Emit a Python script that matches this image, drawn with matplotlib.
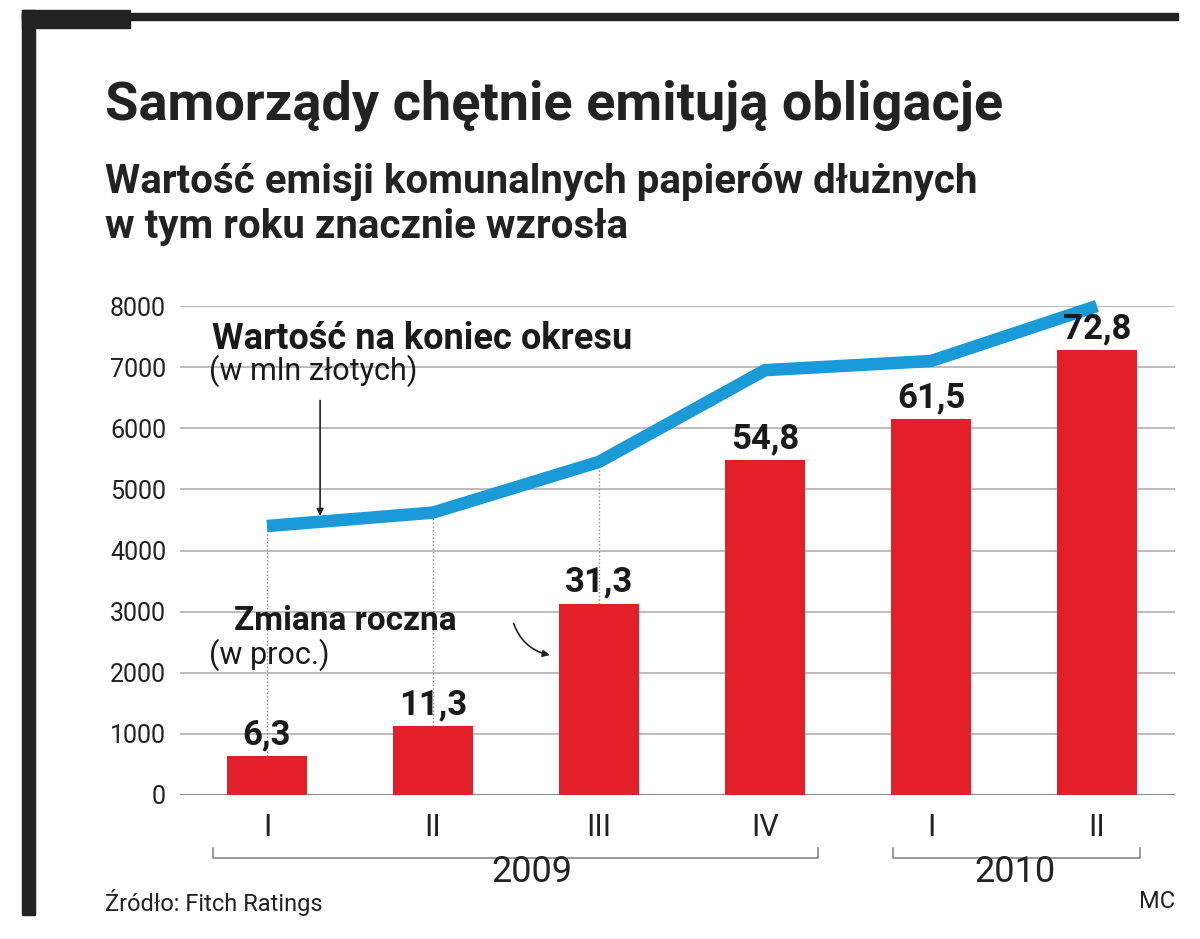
import matplotlib
matplotlib.use("Agg")
import matplotlib.pyplot as plt
from matplotlib.patches import Rectangle
from matplotlib.lines import Line2D

quarters = ["I", "II", "III", "IV", "I", "II"]
bar_values = [630, 1130, 3130, 5480, 6150, 7280]
bar_labels = ["6,3", "11,3", "31,3", "54,8", "61,5", "72,8"]
line_values = [4400, 4620, 5450, 6950, 7100, 8000]
yticks = [0, 1000, 2000, 3000, 4000, 5000, 6000, 7000, 8000]

fig = plt.figure(figsize=(12, 9.39), dpi=100)
W, H = 1200, 939
def fx(px): return px / W
def fy(py): return 1 - py / H

ax = fig.add_axes([fx(180), fy(795), fx(1175) - fx(180), fy(306) - fy(795)])
x = list(range(len(bar_values)))
ax.set_xlim(-0.524, 5.47)
ax.set_ylim(0, 8000)
for t in yticks:
    ax.axhline(t, color="#b0b0b0", lw=1.2, zorder=0)
ax.axhline(0, color="#888888", lw=1.5, zorder=1)
ax.bar(x, bar_values, width=0.48, color="#e3202a", zorder=2)
for i in range(3):
    ax.plot([x[i], x[i]], [bar_values[i], line_values[i]], ls=":", color="#888888", lw=1, zorder=1)
ax.plot(x, line_values, color="#1a9ad6", lw=9, solid_capstyle="butt", zorder=3, clip_on=False)
for i, lab in enumerate(bar_labels):
    ax.text(x[i], bar_values[i] + 80, lab, ha="center", va="bottom", fontsize=25,
            fontweight="bold", family="Roboto", color="#1a1a1a", zorder=4)
ax.set_yticks(yticks)
ax.set_yticklabels([str(t) for t in yticks], fontsize=18, family="Roboto", color="#222")
ax.tick_params(axis="y", length=0, pad=10)
ax.set_xticks([])
for s in ax.spines.values():
    s.set_visible(False)

# annotations
ax.text(-0.33, 7300, "Wartość na koniec okresu", fontsize=26, fontweight="bold", family="Roboto", color="#1a1a1a")
ax.text(-0.35, 6800, "(w mln złotych)", fontsize=22, family="Roboto", color="#1a1a1a")
ax.annotate("", xy=(0.32, 4520), xytext=(0.32, 6500),
            arrowprops=dict(arrowstyle="-|>", color="#222", lw=1.2))
ax.text(-0.2, 2700, "Zmiana roczna", fontsize=24, fontweight="bold", family="Roboto", color="#1a1a1a")
ax.text(-0.35, 2150, "(w proc.)", fontsize=22, family="Roboto", color="#1a1a1a")
ax.annotate("", xy=(1.72, 2280), xytext=(1.48, 2850),
            arrowprops=dict(arrowstyle="-|>", color="#222", lw=1.2,
                            connectionstyle="arc3,rad=0.3"))

# quarter labels and year brackets
for i, q in enumerate(quarters):
    fig.text(fx(267 + 166 * i), fy(828), q, ha="center", va="center", fontsize=22,
             family="Roboto", color="#222")
def bracket(x0, x1, y):
    fig.add_artist(Line2D([fx(x0), fx(x0), fx(x1), fx(x1)], [fy(y - 10), fy(y), fy(y), fy(y - 10)],
                          color="#888", lw=1.2))
bracket(213, 818, 858)
bracket(893, 1140, 858)
fig.text(fx(532), fy(872), "2009", ha="center", va="center", fontsize=26, family="Roboto", color="#222")
fig.text(fx(1015), fy(872), "2010", ha="center", va="center", fontsize=26, family="Roboto", color="#222")

# frame
fig.add_artist(Rectangle((fx(22), fy(915)), fx(35) - fx(22), fy(10) - fy(915), color="#222"))
fig.add_artist(Rectangle((fx(22), fy(28)), fx(130) - fx(22), fy(10) - fy(28), color="#222"))
fig.add_artist(Rectangle((fx(22), fy(20)), fx(1178) - fx(22), fy(13) - fy(20), color="#222"))

fig.text(fx(105), fy(105), "Samorządy chętnie emitują obligacje", fontsize=39, fontweight="bold",
         family="Roboto", color="#222", va="center")
fig.text(fx(105), fy(182), "Wartość emisji komunalnych papierów dłużnych", fontsize=29,
         fontweight="bold", family="Roboto", color="#222", va="center")
fig.text(fx(105), fy(227), "w tym roku znacznie wzrosła", fontsize=29,
         fontweight="bold", family="Roboto", color="#222", va="center")
fig.text(fx(105), fy(902), "Źródło: Fitch Ratings", fontsize=17, family="Roboto", color="#222", va="center")
fig.text(fx(1175), fy(902), "MC", fontsize=17, family="Roboto", color="#222", va="center", ha="right")

fig.savefig("out.png", dpi=100, facecolor="white")
